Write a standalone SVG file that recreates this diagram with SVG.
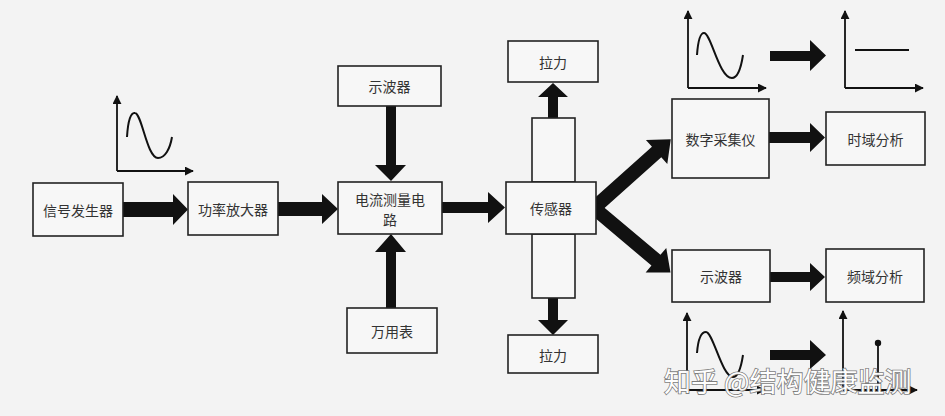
<svg xmlns="http://www.w3.org/2000/svg" width="945" height="416" viewBox="0 0 945 416">
<style>
.box{fill:#f7f7f7;stroke:#222;stroke-width:1.6}
.lbl{font-family:"Noto Sans CJK SC","Noto Sans CJK JP",sans-serif;font-size:14px;fill:#333;text-anchor:middle;dominant-baseline:central}
.blk{fill:#111;stroke:none}
.ax{fill:none;stroke:#111;stroke-width:1.8}
.wave{fill:none;stroke:#111;stroke-width:2}
.wm{font-family:"Noto Sans CJK SC",sans-serif;font-size:27px;fill:#fff;stroke:#777;stroke-width:1.6;paint-order:stroke;opacity:0.95}
</style>
<defs>
<marker id="ah" viewBox="0 0 10 10" refX="9" refY="5" markerWidth="9" markerHeight="9" markerUnits="userSpaceOnUse" orient="auto"><path d="M0,0 L10,5 L0,10 Z" fill="#111"/></marker>
</defs>
<rect width="945" height="416" fill="#f3f3f3"/>

<g id="connectors">
<polygon class="blk" points="123,202 173,202 173,194 188,209.5 173,225 173,217 123,217"/>
<polygon class="blk" points="278,202 322,202 322,194 338,209 322,224 322,216 278,216"/>
<polygon class="blk" points="442,202 488,202 488,192 505,207.5 488,223 488,213 442,213"/>
<polygon class="blk" points="386,106 396,106 396,165 406,165 391,181 375,165 386,165"/>
<polygon class="blk" points="386,308 396,308 396,252 406,252 391,234 375,252 386,252"/>
<polygon class="blk" points="548,118 558,118 558,97 568,97 553,83 538,97 548,97"/>
<polygon class="blk" points="548,298 558,298 558,320 568,320 553,335 538,320 548,320"/>
<polygon class="blk" transform="translate(594,208) rotate(-41.8)" points="0,-7 84,-7 84,-16 103,0 84,16 84,7 0,7"/>
<polygon class="blk" transform="translate(594,208) rotate(40.1)" points="0,-7 81,-7 81,-16 100,0 81,16 81,7 0,7"/>
<polygon class="blk" points="769,132 810,132 810,123 825,137.5 810,152 810,143 769,143"/>
<polygon class="blk" points="770,272 810,272 810,263 825,277 810,291 810,282 770,282"/>
<polygon class="blk" points="770,51 810,51 810,40 826,55.5 810,71 810,61 770,61"/>
<polygon class="blk" points="770,350 810,350 810,340 826,355 810,369 810,360 770,360"/>
</g>

<g id="sensor-rod">
<rect class="box" x="532" y="118" width="43" height="64"/>
<rect class="box" x="532" y="234" width="43" height="64"/>
</g>

<g id="n-signal"><rect class="box" x="33" y="183" width="90" height="53"/><text class="lbl" x="78" y="209.5">信号发生器</text></g>
<g id="n-amp"><rect class="box" x="188" y="182" width="90" height="53"/><text class="lbl" x="233" y="208.5">功率放大器</text></g>
<g id="n-osc1"><rect class="box" x="338" y="66" width="103" height="40"/><text class="lbl" x="389.5" y="86">示波器</text></g>
<g id="n-current"><rect class="box" x="338" y="182" width="104" height="52"/><text class="lbl" x="390" y="199">电流测量电</text><text class="lbl" x="390" y="219">路</text></g>
<g id="n-meter"><rect class="box" x="347" y="308" width="90" height="45"/><text class="lbl" x="392" y="330.5">万用表</text></g>
<g id="n-sensor"><rect class="box" x="506" y="182" width="90" height="52"/><text class="lbl" x="551" y="208">传感器</text></g>
<g id="n-pull1"><rect class="box" x="508" y="41" width="90" height="41"/><text class="lbl" x="553" y="61.5">拉力</text></g>
<g id="n-pull2"><rect class="box" x="508" y="335" width="90" height="38"/><text class="lbl" x="553" y="355">拉力</text></g>
<g id="n-daq"><rect class="box" x="672" y="99" width="97" height="79"/><text class="lbl" x="720.5" y="138.5">数字采集仪</text></g>
<g id="n-osc2"><rect class="box" x="672" y="250" width="98" height="52"/><text class="lbl" x="721" y="276">示波器</text></g>
<g id="n-time"><rect class="box" x="826" y="112" width="99" height="53"/><text class="lbl" x="875.5" y="138.5">时域分析</text></g>
<g id="n-freq"><rect class="box" x="826" y="249" width="98" height="53"/><text class="lbl" x="875" y="275.5">频域分析</text></g>

<g id="plot-left">
<path class="ax" d="M117,171 V96" marker-end="url(#ah)"/>
<path class="ax" d="M117,171 H193" marker-end="url(#ah)"/>
<path class="wave" d="M127,137 C128,120 131,112 135,113 C142,114 147,158 158,158 C165,158 170,149 172,137"/>
</g>
<g id="plot-top1">
<path class="ax" d="M688,88 V11" marker-end="url(#ah)"/>
<path class="ax" d="M688,88 H766" marker-end="url(#ah)"/>
<path class="wave" d="M697,55 C698,41 700,33 704,33 C711,33 719,78 732,78 C738,78 741,68 743,55"/>
</g>
<g id="plot-top2">
<path class="ax" d="M845,88 V11" marker-end="url(#ah)"/>
<path class="ax" d="M845,88 H923" marker-end="url(#ah)"/>
<path class="ax" d="M855,50 H909"/>
</g>
<g id="plot-bot1">
<path class="ax" d="M687,390 V313" marker-end="url(#ah)"/>
<path class="ax" d="M687,390 H765" marker-end="url(#ah)"/>
<path class="wave" d="M697,353 C698,340 701,332 706,332 C713,332 722,377 733,377 C738,377 741,368 743,355"/>
</g>
<g id="plot-bot2">
<path class="ax" d="M843,390 V311" marker-end="url(#ah)"/>
<path class="ax" d="M843,390 H917" marker-end="url(#ah)"/>
<path class="ax" d="M878,343 V390"/>
<circle cx="878" cy="343" r="3.2" fill="#111"/>
</g>

<text class="wm" x="664" y="392">知乎 @结构健康监测</text>
</svg>
